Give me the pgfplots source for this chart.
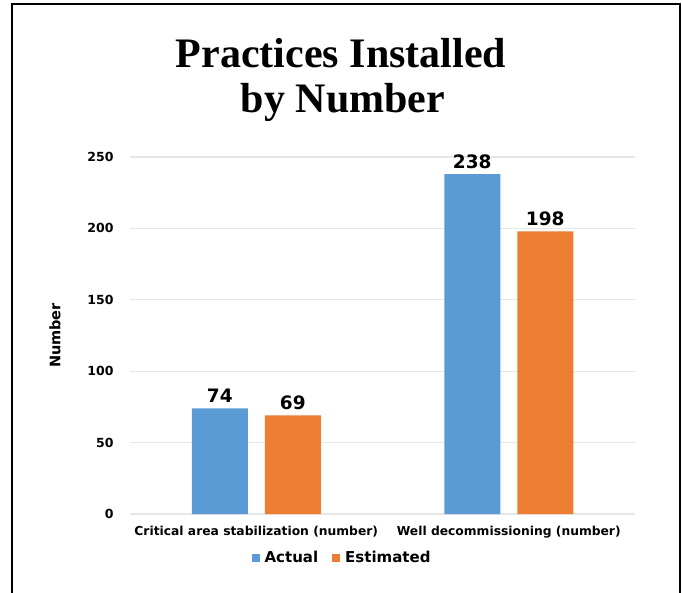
\documentclass[border=0pt]{standalone}
\usepackage{fontspec}
\usepackage{pgfplots}
\pgfplotsset{compat=1.18}
\setmainfont{DejaVu Sans}
\newfontfamily\titlefont{Liberation Serif}
\newfontfamily\chartfont{DejaVu Sans}
\definecolor{actualblue}{HTML}{5B9BD5}
\definecolor{estorange}{HTML}{ED7D31}
\definecolor{gridgray}{HTML}{E6E6E6}

\begin{document}
\begin{tikzpicture}[x=1pt,y=1pt]
  \path[use as bounding box] (0,0) rectangle (682,592);
  % outer frame, open at the bottom
  \draw[black, line width=2.5pt] (12,-5) -- (12,588) -- (680,588) -- (680,-5);

  % title
  \node[anchor=base, font=\titlefont\bfseries\fontsize{42}{46}\selectfont] at (341,524) {Practices Installed};
  \node[anchor=base, font=\titlefont\bfseries\fontsize{42}{46}\selectfont] at (343,479) {by Number};

  \begin{axis}[
    at={(130pt,78pt)}, anchor=south west,
    scale only axis, width=505pt, height=357pt,
    xmin=-0.5, xmax=1.5, ymin=0, ymax=250,
    ytick={0,50,100,150,200,250},
    xtick={0,1},
    xticklabels={Critical area stabilization (number), Well decommissioning (number)},
    axis line style={draw=none},
    major tick length=0pt,
    ymajorgrids, grid style={draw=gridgray, line width=1.2pt},
    /pgf/number format/assume math mode=true,
    yticklabel style={font=\chartfont\bfseries\fontsize{12.5}{14}\selectfont, anchor=east, xshift=-13pt},
    xticklabel style={font=\chartfont\bfseries\fontsize{12.3}{14}\selectfont, anchor=north, yshift=-9pt},
    ylabel={Number},
    every axis y label/.style={at={(axis description cs:-0.1485,0.5)}, rotate=90, anchor=center,
      font=\chartfont\bfseries\fontsize{14.5}{16}\selectfont},
    ybar=17pt, bar width=56pt,
    nodes near coords,
    every node near coord/.append style={font=\chartfont\bfseries\fontsize{18.5}{20}\selectfont, black, yshift=2pt},
    legend style={at={(axis description cs:0.42,-0.123)}, anchor=center, draw=none,
      font=\chartfont\bfseries\fontsize{15}{17}\selectfont},
    legend columns=2,
    legend cell align=left,
    /tikz/every odd column/.append style={column sep=3pt},
    /tikz/every even column/.append style={column sep=12pt},
  ]
    \addplot[fill=actualblue, draw=none,
      legend image code/.code={\fill[actualblue] (0pt,-4pt) rectangle (8pt,4pt);}]
      coordinates {(0,74) (1,238)};
    \addplot[fill=estorange, draw=none,
      legend image code/.code={\fill[estorange] (0pt,-4pt) rectangle (8pt,4pt);}]
      coordinates {(0,69) (1,198)};
    \legend{Actual, Estimated}
  \end{axis}
\end{tikzpicture}
\end{document}
